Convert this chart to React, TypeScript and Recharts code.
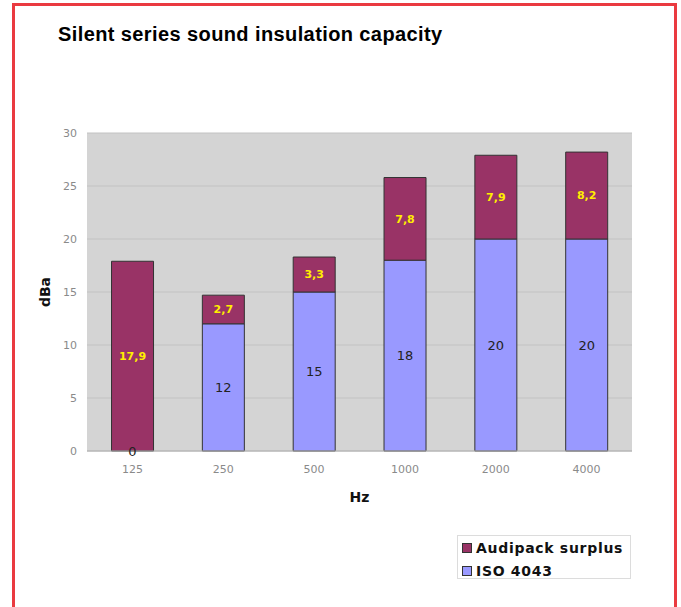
import React from 'react';
import { BarChart, Bar, XAxis, YAxis, CartesianGrid, LabelList, Legend, Label, ReferenceDot } from 'recharts';

const categories = ['125', '250', '500', '1000', '2000', '4000'];
const isoValues = [0, 12, 15, 18, 20, 20];
const surplusValues = [17.9, 2.7, 3.3, 7.8, 7.9, 8.2];
const yTicks = [0, 5, 10, 15, 20, 25, 30];

const data = categories.map((c, i) => ({ hz: c, iso: isoValues[i], surplus: surplusValues[i] }));

const MAROON = '#993366';
const BLUE = '#9999ff';
const FONT = '"DejaVu Sans", Verdana, sans-serif';

const fmtComma = (v: any) => String(v).replace('.', ',');

const LegendContent = () => (
  <div
    style={{
      width: 174,
      height: 44,
      boxSizing: 'border-box',
      border: '1px solid #dcdcdc',
      background: '#fff',
      padding: '0 0 0 4px',
      fontFamily: FONT,
      fontWeight: 'bold',
      fontSize: 14,
      letterSpacing: 0.7,
      color: '#111',
    }}
  >
    {[
      { name: 'Audipack surplus', color: MAROON },
      { name: 'ISO 4043', color: BLUE },
    ].map((it) => (
      <div key={it.name} style={{ display: 'flex', alignItems: 'center', height: 23, whiteSpace: 'nowrap' }}>
        <span
          style={{
            display: 'inline-block',
            width: 8,
            height: 8,
            background: it.color,
            border: '1px solid #333',
            marginRight: 4,
            flex: 'none',
          }}
        />
        <span>{it.name}</span>
      </div>
    ))}
  </div>
);

export default function App() {
  return (
    <div style={{ position: 'absolute', left: 0, top: 0, width: 681, height: 607, overflow: 'hidden', background: '#fff' }}>
      <div
        style={{
          position: 'absolute',
          left: 12,
          top: 3,
          width: 665,
          height: 640,
          boxSizing: 'border-box',
          border: '3px solid #ea3a40',
        }}
      />
      <div
        style={{
          position: 'absolute',
          left: 58,
          top: 24,
          lineHeight: '20px',
          fontFamily: '"Liberation Sans", Arial, sans-serif',
          fontWeight: 'bold',
          fontSize: 20,
          letterSpacing: 0.4,
          color: '#000',
          whiteSpace: 'nowrap',
        }}
      >
        Silent series sound insulation capacity
      </div>
      <div style={{ position: 'absolute', left: 0, top: 0 }}>
        <BarChart
          width={681}
          height={607}
          data={data}
          margin={{ top: 133, right: 49, bottom: 116, left: 0 }}
          barCategoryGap="27%"
        >
          <CartesianGrid vertical={false} fill="#d4d4d4" stroke="#c2c2c2" />
          <XAxis
            dataKey="hz"
            height={40}
            tickLine={false}
            axisLine={{ stroke: '#b0b0b0' }}
            tickMargin={8}
            tick={{ fill: '#8a8a8a', fontSize: 11, fontFamily: FONT }}
          >
            <Label
              value="Hz"
              position="bottom"
              offset={1}
              style={{ fontFamily: FONT, fontWeight: 'bold', fontSize: 14, fill: '#111' }}
            />
          </XAxis>
          <YAxis
            width={87}
            domain={[0, 30]}
            ticks={yTicks}
            interval={0}
            tickLine={false}
            axisLine={false}
            tickMargin={4}
            tick={{ fill: '#8a8a8a', fontSize: 11, fontFamily: FONT }}
          >
            <Label
              content={(props: any) => {
                const vb = props.viewBox || { y: 133, height: 318 };
                const cx = 45;
                const cy = vb.y + vb.height / 2;
                return (
                  <text
                    x={cx}
                    y={cy}
                    transform={`rotate(-90, ${cx}, ${cy})`}
                    textAnchor="middle"
                    dominantBaseline="central"
                    style={{ fontFamily: FONT, fontWeight: 'bold', fontSize: 14, fill: '#111' }}
                  >
                    dBa
                  </text>
                );
              }}
            />
          </YAxis>
          <Legend
            layout="vertical"
            align="center"
            verticalAlign="middle"
            wrapperStyle={{ left: 457, top: 535, width: 174 }}
            content={() => <LegendContent />}
          />
          <Bar dataKey="iso" stackId="a" fill={BLUE} stroke="#333" strokeWidth={1} isAnimationActive={false}>
            <LabelList
              dataKey="iso"
              position="center"
              style={{ fill: '#222', fontSize: 13, fontFamily: FONT }}
            />
          </Bar>
          <Bar dataKey="surplus" stackId="a" fill={MAROON} stroke="#333" strokeWidth={1} isAnimationActive={false}>
            <LabelList
              dataKey="surplus"
              position="center"
              formatter={fmtComma}
              style={{ fill: '#ffee00', fontSize: 11, fontWeight: 'bold', fontFamily: FONT }}
            />
          </Bar>
          {data
            .filter((d) => d.iso === 0)
            .map((d) => (
              <ReferenceDot
                key={d.hz}
                x={d.hz}
                y={d.iso}
                r={0}
                fill="none"
                stroke="none"
                ifOverflow="visible"
                label={{
                  value: String(d.iso),
                  position: 'center',
                  style: { fill: '#222', fontSize: 13, fontFamily: FONT },
                }}
              />
            ))}
        </BarChart>
      </div>
    </div>
  );
}
